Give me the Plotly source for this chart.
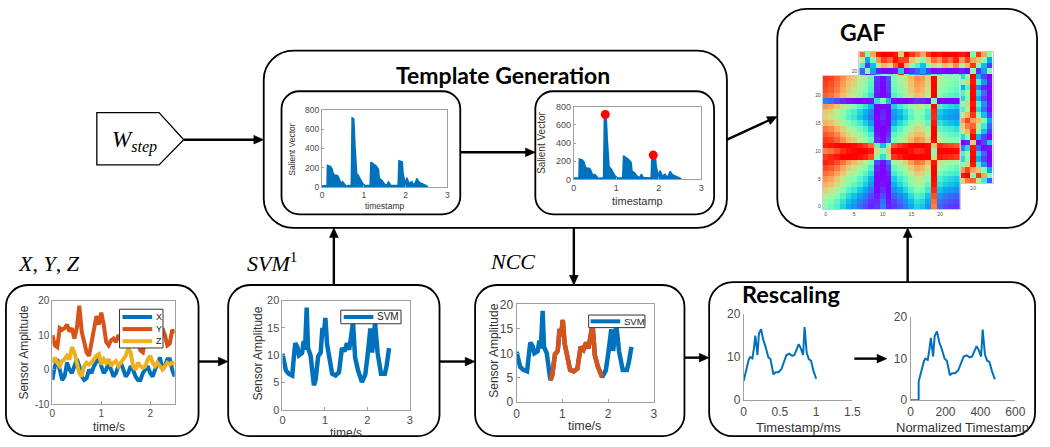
import numpy as np
import plotly.graph_objects as go

W, H = 1050, 447

# ---------------- data ----------------
xyz_t = [0, 0.05, 0.1, 0.15, 0.2, 0.25, 0.3, 0.35, 0.4, 0.45, 0.5, 0.55, 0.6, 0.65, 0.7, 0.75,
         0.8, 0.85, 0.9, 0.95, 1.0, 1.05, 1.1, 1.15, 1.2, 1.25, 1.3, 1.35, 1.4, 1.45, 1.5, 1.55,
         1.6, 1.65, 1.7, 1.75, 1.8, 1.85, 1.9, 1.95, 2.0, 2.05, 2.1, 2.15, 2.2, 2.25, 2.3, 2.35,
         2.4, 2.45, 2.5]
acc_x = [-3, 1, 3, 0, -3, -2, 2, 0, -1, 1, 3, 1, -2, -3, -2.5, 0, -1, 1, 2.5, 3.5, 1, -1, 0, 2, 0,
         -2, -1, 1, 2, 0, -2, -1, 1, 0, -2, -3, -3, -1, 0, 1, -1, -2, 0, 2, 3.5, 0, 1, 3, 3, 0, -2]
acc_y = [10, 7, 6.5, 12, 11.5, 12, 13, 11, 12, 9, 12, 18.5, 11, 8, 5, 4, 8, 12, 15.5, 13, 16.5, 13,
         8, 7, 8.5, 9, 8, 10, 9, 11, 13, 10, 12, 14, 11, 8, 5.5, 5, 9, 12, 10, 13, 9, 8, 10, 12, 10,
         7, 7.5, 11.5, 10.5]
acc_z = [2, 3.5, 2, 1, 2.5, 3, 4, 3, 6.5, 5, 2, -1, -2, 1, 2, 1.5, 2, 3, 4, 4.5, 1.5, 3, 2, 3, 1, 2,
         2.5, 1, 2, 3, 4, 6, 5, 1, 0, 2, 1, 0.5, 1, 3, 4, 2, 1, 2, 1, 0, 1, 2, 1.5, 2, 1.5]

svm_t = [0, 0.03, 0.08, 0.15, 0.23, 0.26, 0.3, 0.35, 0.39, 0.46, 0.5, 0.53, 0.57, 0.6, 0.66, 0.74,
         0.78, 0.84, 0.9, 0.94, 0.97, 1.01, 1.05, 1.11, 1.17, 1.25, 1.33, 1.4, 1.46, 1.52, 1.57,
         1.61, 1.66, 1.71, 1.78, 1.87, 1.95, 2.01, 2.07, 2.11, 2.18, 2.24, 2.32, 2.41, 2.45, 2.51]
svm_v = [10.3, 8.7, 7.2, 6.6, 6.3, 9, 12.2, 11.5, 10, 10.4, 12.6, 11, 18.7, 11.3, 10, 4.5, 5.5, 9.8,
         10.5, 15, 13.5, 16.8, 12, 9.3, 6.6, 6.3, 6.9, 11.3, 10.7, 12.2, 11, 13.1, 16, 9.6, 7.2, 5.1,
         6.5, 10.4, 14.9, 10.5, 15.8, 10.4, 6.6, 6.6, 8, 11.3]
ncc_start, ncc_end = 15, 36   # matched segment (indices into svm_t)

sal_t = [0, 0.12, 0.13, 0.2, 0.24, 0.27, 0.3, 0.37, 0.41, 0.45, 0.49, 0.54, 0.58, 0.64, 0.7, 0.72,
         0.76, 0.79, 0.83, 0.87, 0.92, 0.97, 1.03, 1.15, 1.17, 1.23, 1.29, 1.35, 1.37, 1.43, 1.49,
         1.55, 1.59, 1.64, 1.82, 1.84, 1.92, 1.94, 1.99, 2.03, 2.08, 2.15, 2.2, 2.27, 2.31, 2.37,
         2.44, 2.53]
sal_v = [15, 15, 225, 215, 190, 140, 125, 120, 90, 40, 57, 33, 10, 17, 17, 715, 705, 420, 140, 120,
         73, 40, 17, 17, 260, 240, 220, 185, 90, 72, 35, 20, 57, 20, 17, 272, 262, 140, 40, 97, 40,
         57, 17, 90, 57, 40, 23, 7]
peak_t = [0.74, 1.87]
peak_v = [715, 268]

rs_t = [0, 0.03, 0.07, 0.09, 0.12, 0.14, 0.16, 0.19, 0.21, 0.24, 0.27, 0.3, 0.34, 0.37, 0.39, 0.41,
        0.44, 0.48, 0.52, 0.55, 0.59, 0.63, 0.67, 0.7, 0.73, 0.76, 0.79, 0.82, 0.84, 0.87, 0.9, 0.93,
        0.96, 1.0]
rs_v = [4.5, 6.5, 9.5, 10, 9.7, 12, 15, 10.5, 15.5, 16.5, 14, 12.5, 10, 9.5, 7.5, 6, 6.5, 6.5, 7.2,
        8.5, 10.5, 10.8, 10.3, 10.5, 12, 13, 12, 10.5, 17, 11, 9.5, 9.2, 7, 5]
norm_t = [0, 46, 46, 59, 77, 85, 98, 107, 116, 129, 138, 151, 164, 177, 195, 208, 216, 225, 238, 256,
          273, 286, 304, 321, 339, 352, 365, 378, 391, 404, 413, 426, 439, 452, 466, 483]
norm_v = [0, 0] + rs_v

gaf_front_series = [15.5, 15.2, 14.6, 13.7, 12.8, 12.2, 11.3, 10.4, 9.2, 5.3, 5, 5.6, 9.8, 10.7,
                    11.6, 12.8, 13.7, 13.4, 12.2, 17, 11, 10.4, 10.1, 9.8]
gaf_back_series = [8, 6, 7, 10, 12, 11, 14, 17.5, 12, 9, 8, 7, 9, 11, 10, 12, 11, 13, 10, 12, 18, 9,
                   7, 6]

BLUE, ORANGE, YELLOW = '#0072BD', '#D95319', '#EDB120'
TICK = '#4a4a4a'
AXL = '#a0a0a0'
SANS = 'Liberation Sans'
SERIF = 'Liberation Serif'
BOLD = 'Lato'


def px(x):
    return x / W


def py(y):
    return 1 - y / H


def P(x, y):
    return f'{px(x):.5f},{py(y):.5f}'


def gadf(series):
    s = np.asarray(series, dtype=float)
    x = (2 * s - s.max() - s.min()) / (s.max() - s.min())
    phi = np.arccos(np.clip(x, -1, 1))
    return np.sin(phi[:, None] - phi[None, :])


fig = go.Figure()
annotations = []
shapes = []


def ax_names(n):
    return ('x' if n == 1 else f'x{n}'), ('y' if n == 1 else f'y{n}')


def add_axes(n, x0, x1, y0, y1, xr, yr, xt, yt, fs, box=True, ticklen=3):
    xn, yn = ax_names(n)
    common = dict(showgrid=False, zeroline=False, showline=True, linecolor=AXL, linewidth=1,
                  mirror=box, ticks='inside', ticklen=ticklen, tickcolor=AXL,
                  tickfont=dict(family=SANS, size=fs, color=TICK), fixedrange=True)
    fig.layout['xaxis' if n == 1 else f'xaxis{n}'] = dict(
        domain=[px(x0), px(x1)], range=xr, anchor=yn, tickvals=xt,
        ticktext=[('%g' % v) for v in xt], **common)
    fig.layout['yaxis' if n == 1 else f'yaxis{n}'] = dict(
        domain=[py(y1), py(y0)], range=yr, anchor=xn, tickvals=yt,
        ticktext=[('%g' % v) for v in yt], **common)
    return xn, yn


def text(x, y, s, size, family=SANS, color='#333', angle=0, xanchor='center', yanchor='middle'):
    annotations.append(dict(x=px(x), y=py(y), xref='paper', yref='paper', text=s, showarrow=False,
                            font=dict(family=family, size=size, color=color), textangle=angle,
                            xanchor=xanchor, yanchor=yanchor))


def arrow(x0, y0, x1, y1, hl=10, hw=4.5, lw=2.4):
    d = np.hypot(x1 - x0, y1 - y0)
    ux, uy = (x1 - x0) / d, (y1 - y0) / d
    bx, by = x1 - ux * hl, y1 - uy * hl
    shapes.append(dict(type='line', xref='paper', yref='paper', x0=px(x0), y0=py(y0),
                       x1=px(bx + ux * 2), y1=py(by + uy * 2), line=dict(color='black', width=lw),
                       layer='above'))
    path = (f'M {P(x1, y1)} L {P(bx - uy * hw, by + ux * hw)} L {P(bx + uy * hw, by - ux * hw)} Z')
    shapes.append(dict(type='path', xref='paper', yref='paper', path=path, fillcolor='black',
                       line=dict(color='black', width=0.5), layer='above'))


def rrect(x0, y0, x1, y1, r, width=1.8):
    k = 0.45
    path = (f'M {P(x0 + r, y0)} L {P(x1 - r, y0)} C {P(x1 - r * k, y0)} {P(x1, y0 + r * k)} {P(x1, y0 + r)} '
            f'L {P(x1, y1 - r)} C {P(x1, y1 - r * k)} {P(x1 - r * k, y1)} {P(x1 - r, y1)} '
            f'L {P(x0 + r, y1)} C {P(x0 + r * k, y1)} {P(x0, y1 - r * k)} {P(x0, y1 - r)} '
            f'L {P(x0, y0 + r)} C {P(x0, y0 + r * k)} {P(x0 + r * k, y0)} {P(x0 + r, y0)} Z')
    shapes.append(dict(type='path', path=path, xref='paper', yref='paper',
                       line=dict(color='black', width=width), layer='above'))


def legend_box(x0, y0, x1, y1, entries, fs):
    shapes.append(dict(type='rect', xref='paper', yref='paper', x0=px(x0), x1=px(x1), y0=py(y1), y1=py(y0),
                       line=dict(color='#333', width=1), fillcolor='white', layer='above'))
    for (lx0, lx1, ly, color, label, tx) in entries:
        shapes.append(dict(type='line', xref='paper', yref='paper', x0=px(lx0), x1=px(lx1), y0=py(ly),
                           y1=py(ly), line=dict(color=color, width=4), layer='above'))
        text(tx, ly, label, fs, color='#222', xanchor='left')


# ---------------- subplot 1 : X, Y, Z ----------------
xn, yn = add_axes(1, 50, 173.8, 303, 410, [0, 2.5], [-10, 20], [0, 1, 2], [-10, 0, 10, 20], 10)
for vals, col, name in [(acc_x, BLUE, 'X'), (acc_y, ORANGE, 'Y'), (acc_z, YELLOW, 'Z')]:
    fig.add_trace(go.Scatter(x=xyz_t, y=vals, mode='lines', name=name, line=dict(color=col, width=4),
                             xaxis=xn, yaxis=yn, showlegend=False))
legend_box(118, 312, 162, 352, [(121, 151, 320, BLUE, 'X', 153), (121, 151, 332.5, ORANGE, 'Y', 153),
                                (121, 151, 345, YELLOW, 'Z', 153)], 9)
text(21, 357, 'Sensor Amplitude', 12, angle=-90)
text(107, 434, 'time/s', 12)

# ---------------- subplot 2 : SVM ----------------
xn, yn = add_axes(2, 283, 412, 303, 416, [0, 3], [0, 20], [0, 1, 2, 3], [0, 5, 10, 15, 20], 11)
fig.add_trace(go.Scatter(x=svm_t, y=svm_v, mode='lines', name='SVM', line=dict(color=BLUE, width=4.5),
                         xaxis=xn, yaxis=yn, showlegend=False))
legend_box(342, 313, 403, 327, [(345, 375, 320, BLUE, 'SVM', 377)], 10)
text(258, 358, 'Sensor Amplitude', 12, angle=-90)
text(347, 440, 'time/s', 12)

# ---------------- subplot 3 : NCC ----------------
xn, yn = add_axes(3, 520, 659, 307, 408, [0, 3], [0, 20], [0, 1, 2, 3], [0, 5, 10, 15, 20], 12)
fig.add_trace(go.Scatter(x=svm_t, y=svm_v, mode='lines', name='SVM', line=dict(color=BLUE, width=4.5),
                         xaxis=xn, yaxis=yn, showlegend=False))
fig.add_trace(go.Scatter(x=svm_t[ncc_start:ncc_end], y=svm_v[ncc_start:ncc_end], mode='lines',
                         name='template', line=dict(color=ORANGE, width=4.5), xaxis=xn, yaxis=yn,
                         showlegend=False))
legend_box(593, 318, 650, 331, [(595, 625, 324.5, BLUE, 'SVM', 627)], 9.5)
text(497, 355, 'Sensor Amplitude', 12, angle=-90)
text(589, 433, 'time/s', 12.5)

# ---------------- subplot 4 : rescaling (raw) ----------------
xn, yn = add_axes(4, 750, 860, 317, 406, [0, 1.5], [0, 20], [0, 0.5, 1, 1.5], [0, 10, 20], 12, box=False, ticklen=0)
fig.add_trace(go.Scatter(x=rs_t, y=rs_v, mode='lines', line=dict(color=BLUE, width=2),
                         xaxis=xn, yaxis=yn, showlegend=False))
text(805, 434, 'Timestamp/ms', 13)

# ---------------- subplot 5 : rescaling (normalized) ----------------
xn, yn = add_axes(5, 919, 1025, 320, 406, [0, 600], [0, 20], [0, 200, 400, 600], [0, 10, 20], 12, box=False, ticklen=0)
fig.add_trace(go.Scatter(x=norm_t, y=norm_v, mode='lines', line=dict(color=BLUE, width=2),
                         xaxis=xn, yaxis=yn, showlegend=False))
text(972, 434, 'Normalized Timestamp', 13)

# ---------------- subplot 6 / 7 : salient vector ----------------
xn, yn = add_axes(6, 323, 450, 106, 186, [0, 3], [0, 800], [0, 1, 2, 3], [0, 200, 400, 600, 800], 8.5, ticklen=2)
fig.add_trace(go.Scatter(x=sal_t, y=sal_v, mode='lines', fill='tozeroy', fillcolor=BLUE,
                         line=dict(color=BLUE, width=1.5), xaxis=xn, yaxis=yn, showlegend=False))
text(293, 147, 'Salient Vector', 8.5, angle=-90)
text(386, 205, 'timestamp', 8.5)

xn, yn = add_axes(7, 578, 707, 103, 178, [0, 3], [0, 800], [0, 1, 2, 3], [0, 200, 400, 600, 800], 9, ticklen=2)
fig.add_trace(go.Scatter(x=sal_t, y=sal_v, mode='lines', fill='tozeroy', fillcolor=BLUE,
                         line=dict(color=BLUE, width=1.5), xaxis=xn, yaxis=yn, showlegend=False))
fig.add_trace(go.Scatter(x=peak_t, y=peak_v, mode='markers', marker=dict(color='#ff0000', size=9),
                         xaxis=xn, yaxis=yn, showlegend=False))
text(545, 140, 'Salient Vector', 10, angle=-90)
text(642, 200, 'timestamp', 11)

# ---------------- GAF heatmaps ----------------
rainbow = [[0, 'rgb(128,0,255)'], [0.125, 'rgb(64,98,250)'], [0.25, 'rgb(0,180,236)'],
           [0.375, 'rgb(64,236,212)'], [0.5, 'rgb(128,255,180)'], [0.625, 'rgb(191,236,142)'],
           [0.75, 'rgb(255,180,98)'], [0.875, 'rgb(255,98,50)'], [1, 'rgb(255,0,0)']]
idx = list(range(24))
for n, (series, x0, x1, y0, y1, ticks) in zip([8, 9], [(gaf_back_series, 867, 1002, 46, 182, [20]),
                                                     (gaf_front_series, 830, 969, 71, 209, [0, 5, 10, 15, 20])]):
    xn, yn = add_axes(n, x0, x1, y0, y1, [-0.5, 23.5], [-0.5, 23.5], ticks, ticks, 5, box=True, ticklen=0)
    fig.layout['xaxis%d' % n].linecolor = '#cccccc'
    fig.layout['yaxis%d' % n].linecolor = '#cccccc'
    fig.add_trace(go.Heatmap(z=gadf(series), x=idx, y=idx, colorscale=rainbow, zmin=-1, zmax=1,
                             showscale=False, xaxis=xn, yaxis=yn, hoverinfo='skip'))

# ---------------- boxes ----------------
rrect(3, 287, 198, 443, 22)
rrect(228, 287, 442, 443, 22)
rrect(478, 287, 690, 443, 22)
rrect(715, 284, 1045, 443, 24)
rrect(264, 45, 733, 228, 30)
rrect(282, 87, 463, 214, 18)
rrect(539, 87, 720, 214, 18)
rrect(784, 2, 1047, 228, 30)
pent = [(95, 109), (158, 109), (183, 137), (158, 163), (95, 163)]
shapes.append(dict(type='path', xref='paper', yref='paper', layer='above',
                   path='M ' + ' L '.join(P(a, b) for a, b in pent) + ' Z',
                   line=dict(color='black', width=1.3)))

# ---------------- arrows ----------------
arrow(183, 137, 264, 137)
arrow(463, 150, 539, 150)
arrow(733, 137, 784, 113)
arrow(198, 366, 228, 366)
arrow(442, 366, 478, 366)
arrow(690, 362, 715, 362)
arrow(335, 287, 335, 228)
arrow(578, 228, 578, 287)
arrow(916, 284, 916, 228)
arrow(862, 363, 895, 363)

# ---------------- titles / math labels ----------------
text(506, 70, '<b>Template Generation</b>', 23, family=BOLD, color='black')
text(871, 26, '<b>GAF</b>', 23, family=BOLD, color='black')
text(798, 296, '<b>Rescaling</b>', 23.5, family=BOLD, color='black')
text(47, 265, '<i>X</i>, <i>Y</i>, <i>Z</i>', 22, family=SERIF, color='black')
text(272, 263, '<i>SVM</i><sup>1</sup>', 22, family=SERIF, color='black')
text(516, 263, '<i>NCC</i>', 22, family=SERIF, color='black')
text(133, 139, '<i>W</i><sub><i>step</i></sub>', 23, family=SERIF, color='black')

fig.update_layout(width=W, height=H, margin=dict(l=0, r=0, t=0, b=0, pad=0), paper_bgcolor='white',
                  plot_bgcolor='white', showlegend=False, annotations=annotations, shapes=shapes,
                  font=dict(family=SANS))
fig.write_html('out.html', config={'displayModeBar': False},
               post_script="var s=document.createElement('style');"
                           "s.innerHTML='html,body{margin:0;padding:0;overflow:hidden;}';"
                           "document.head.appendChild(s);")
